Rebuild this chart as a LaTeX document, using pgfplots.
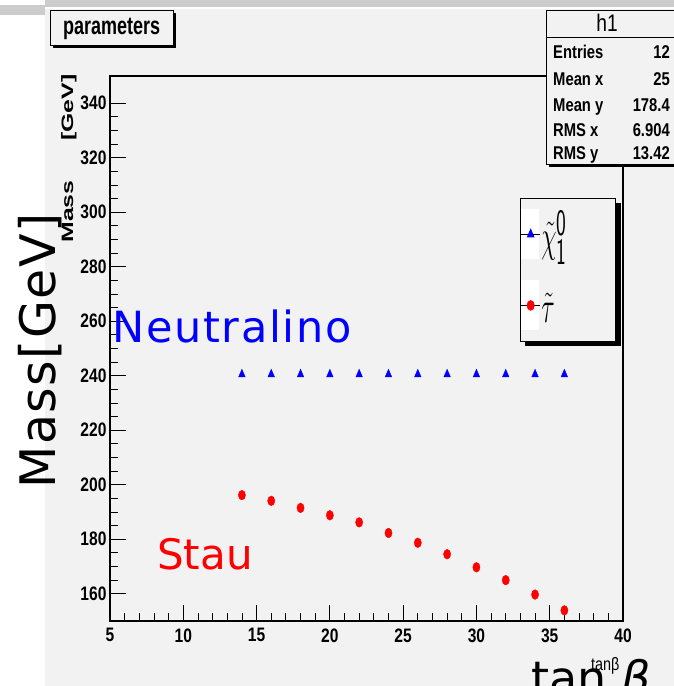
\documentclass[border=0pt]{standalone}
\usepackage{fontspec}
\setmainfont{Liberation Sans}
\newfontfamily\rootn{Liberation Sans}[FakeStretch=0.8]
\newfontfamily\rootp{Liberation Sans}[FakeStretch=0.72]
\newfontfamily\rootw{Liberation Sans}[FakeStretch=1.5]
\newfontfamily\dv{DejaVu Sans}
\usepackage{graphicx}
\usepackage{pgfplots}
\usepackage{pgfplotstable}
\pgfplotsset{compat=1.18}
\definecolor{padgray}{RGB}{242,242,242}
\definecolor{framegray}{RGB}{204,204,204}

% neutralino mass vs tan beta
\pgfplotstableread{
x y
14 240.5
16 240.5
18 240.5
20 240.5
22 240.5
24 240.5
26 240.5
28 240.5
30 240.5
32 240.5
34 240.5
36 240.5
}\neutralino
% stau mass vs tan beta
\pgfplotstableread{
x y
14 196.2
16 194.1
18 191.5
20 188.8
22 186.2
24 182.3
26 178.7
28 174.5
30 169.7
32 165.0
34 159.7
36 153.9
}\stau

\newcommand{\legtext}[2]{\makebox[72pt][l]{\raisebox{#1}{\scalebox{1.0}[1.8]{\Huge #2}}}}

\begin{document}
\begin{tikzpicture}
\useasboundingbox (0,0) rectangle (674pt,686pt);
\clip (0,0) rectangle (674pt,686pt);
% canvas
\fill[white] (0,0) rectangle (674pt,686pt);
\fill[framegray] (45pt,679pt) rectangle (674pt,686pt);
\fill[framegray] (0pt,671pt) rectangle (45pt,681pt);
\fill[padgray] (45pt,0pt) rectangle (674pt,677pt);
% shadow of the legend box
\fill[black] (525pt,340pt) rectangle (621pt,483pt);

\begin{axis}[
    at={(110pt,65pt)}, anchor=south west,
    width=513pt, height=545pt, scale only axis,
    xmin=5, xmax=40, ymin=150, ymax=350,
    xtick={5,10,...,40}, minor x tick num=4,
    ytick={160,180,...,340}, minor y tick num=3,
    xtick pos=bottom, ytick pos=left,
    tick align=inside,
    major tick length=16pt, minor tick length=8pt,
    tick style={black, line width=0.8pt},
    axis line style={line width=1.3pt},
    /pgf/number format/assume math mode=true,
    tick label style={font=\fontsize{19.5}{20}\rootn\bfseries},
    xticklabel style={yshift=-4pt},
    legend style={at={(0.7992,0.7761)}, anchor=north west,
        draw=black, line width=0.8pt, fill=padgray,
        inner sep=0.5pt, nodes={inner sep=1pt},
        cells={anchor=west}},
    legend image code/.code={
        \path[draw=none,fill=none] (0pt,-35.5pt) -- (0pt,35.5pt);
        \fill[white,draw=none] (-1pt,-25pt) rectangle (17pt,25pt);
        \draw[black,line width=0.6pt] (-1pt,0pt) -- (18pt,0pt);
        \draw[#1] plot coordinates {(8.5pt,0pt)};
    },
]
\addplot[only marks, mark=triangle*, color=blue, mark size=3.8pt,
    mark options={yscale=1.35}] table {\neutralino};
\addlegendentry{\legtext{5pt}{$\tilde{\chi}^{\mathsf{0}}_{\mathsf{1}}$}}
\addplot[only marks, mark=*, color=red, mark size=3.6pt,
    mark options={yscale=1.35}] table {\stau};
\addlegendentry{\legtext{-6pt}{$\tilde{\tau}$}}
\end{axis}

% labels on the pad
\node[anchor=base west, inner sep=0pt, text=blue,
    font=\fontsize{43}{43}\dv\addfontfeatures{LetterSpace=4}] at (112pt,343pt) {Neutralino};
\node[anchor=base west, inner sep=0pt, text=red,
    font=\fontsize{42}{42}\dv] at (157pt,116pt) {Stau};
\node[anchor=base, rotate=90, inner sep=0pt,
    font=\fontsize{49}{49}\dv\addfontfeatures{LetterSpace=3}] at (56pt,335pt) {Mass[GeV]};
\node[anchor=base, rotate=90, inner sep=0pt,
    font=\fontsize{16.5}{17}\rootw\bfseries] at (73pt,474.5pt) {Mass};
\node[anchor=base, rotate=90, inner sep=0pt,
    font=\fontsize{16.5}{17}\rootw\bfseries] at (73pt,578.5pt) {[GeV]};
\node[anchor=base west, inner sep=0pt,
    font=\fontsize{46}{46}\dv] at (531pt,-9pt) {tan \itshape β};
\node[anchor=base west, inner sep=0pt,
    font=\fontsize{18}{18}\rootn] at (591pt,16pt) {tanβ};

% title box
\fill[black] (53pt,638pt) rectangle (176pt,673pt);
\draw[black, line width=0.8pt, fill=padgray] (50pt,641pt) rectangle (173pt,676pt);
\node[anchor=base west, inner sep=0pt,
    font=\fontsize{25}{25}\rootp\bfseries] at (63pt,651pt) {parameters};

% statistics box
\fill[black] (549pt,519pt) rectangle (693pt,673pt);
\draw[black, line width=0.8pt, fill=padgray] (546pt,522pt) rectangle (690pt,676pt);
\draw[black, line width=0.8pt] (546pt,649pt) -- (690pt,649pt);
\node[anchor=base, inner sep=0pt, font=\fontsize{24}{24}\rootn] at (607pt,654.3pt) {h1};
\begin{scope}[every node/.style={inner sep=0pt, font=\fontsize{18.5}{19}\rootn\bfseries}]
\node[anchor=base west] at (553pt,627.3pt) {Entries};
\node[anchor=base east] at (670pt,627.3pt) {12};
\node[anchor=base west] at (553pt,600pt) {Mean x};
\node[anchor=base east] at (670pt,600pt) {25};
\node[anchor=base west] at (553pt,574pt) {Mean y};
\node[anchor=base east] at (670pt,574pt) {178.4};
\node[anchor=base west] at (553pt,549pt) {RMS x};
\node[anchor=base east] at (670pt,549pt) {6.904};
\node[anchor=base west] at (553pt,526.3pt) {RMS y};
\node[anchor=base east] at (670pt,526.3pt) {13.42};
\end{scope}
\end{tikzpicture}
\end{document}
